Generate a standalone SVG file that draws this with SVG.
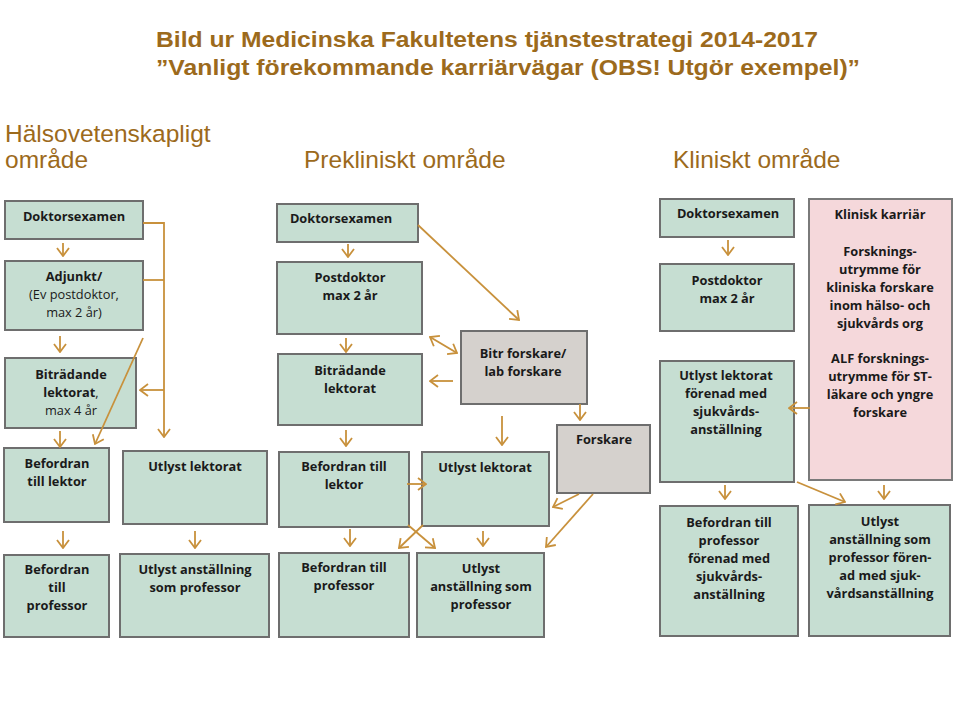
<svg xmlns="http://www.w3.org/2000/svg" width="960" height="709" viewBox="0 0 960 709">
<defs>
<style>
.box{fill:#c6ded2;stroke:#6e6e6e;stroke-width:2}
.gray{fill:#d5d1cd;stroke:#6e6e6e;stroke-width:2}
.pink{fill:#f5d8db;stroke:#7a7a7a;stroke-width:2}
.t{font-family:"Open Sans","Noto Sans",sans-serif;font-size:12.8px;font-weight:700;fill:#1a1a1a;text-anchor:middle}
.r{font-weight:400}
.c{stroke:#c8913c;stroke-width:1.8;fill:none;marker-end:url(#ah)}
.cn{stroke:#c8913c;stroke-width:1.8;fill:none}
.title{font-family:"Liberation Sans",Arial,sans-serif;font-size:22px;font-weight:700;fill:#9c6a1c}
.sec{font-family:"Liberation Sans",Arial,sans-serif;font-size:24.5px;fill:#9c6a1c}
</style>
<marker id="ah" viewBox="0 0 10 14" refX="9" refY="7" markerWidth="10" markerHeight="14" markerUnits="userSpaceOnUse" orient="auto-start-reverse">
<path d="M1,1 L9,7 L1,13" fill="none" stroke="#c8913c" stroke-width="1.8"/>
</marker>
</defs>
<rect width="960" height="709" fill="#ffffff"/>
<g id="titles">
<text class="title" x="156" y="47" textLength="662" lengthAdjust="spacingAndGlyphs">Bild ur Medicinska Fakultetens tjänstestrategi 2014-2017</text>
<text class="title" x="156" y="75" textLength="704" lengthAdjust="spacingAndGlyphs">”Vanligt förekommande karriärvägar (OBS! Utgör exempel)”</text>
<text class="sec" x="5" y="142">Hälsovetenskapligt</text>
<text class="sec" x="5" y="168">område</text>
<text class="sec" x="304" y="168">Prekliniskt område</text>
<text class="sec" x="673" y="168">Kliniskt område</text>
</g>
<g id="l-doktor"><rect class="box" x="5" y="201" width="138" height="38"/><text class="t" x="74" y="221">Doktorsexamen</text></g>
<g id="l-adjunkt"><rect class="box" x="5" y="261" width="138" height="69"/><text class="t" x="74" y="281">Adjunkt/</text><text class="t r" x="74" y="299">(Ev postdoktor,</text><text class="t r" x="74" y="317">max 2 år)</text></g>
<g id="l-bitr"><rect class="box" x="5" y="358" width="131" height="70"/><text class="t" x="71" y="379">Biträdande</text><text class="t" x="71" y="397">lektorat<tspan class="r">,</tspan></text><text class="t r" x="71" y="415">max 4 år</text></g>
<g id="l-beflektor"><rect class="box" x="4" y="448" width="105" height="74"/><text class="t" x="57" y="468">Befordran</text><text class="t" x="57" y="486">till lektor</text></g>
<g id="l-utlystlektorat"><rect class="box" x="123" y="451" width="144" height="73"/><text class="t" x="195" y="471">Utlyst lektorat</text></g>
<g id="l-befprof"><rect class="box" x="4" y="555" width="105" height="82"/><text class="t" x="57" y="574">Befordran</text><text class="t" x="57" y="592">till</text><text class="t" x="57" y="610">professor</text></g>
<g id="l-utlystprof"><rect class="box" x="120" y="554" width="149" height="83"/><text class="t" x="195" y="574">Utlyst anställning</text><text class="t" x="195" y="592">som professor</text></g>
<g id="m-doktor"><rect class="box" x="277" y="204" width="141" height="38"/><text class="t" x="341" y="223">Doktorsexamen</text></g>
<g id="m-postdok"><rect class="box" x="277" y="262" width="145" height="72"/><text class="t" x="350" y="282">Postdoktor</text><text class="t" x="350" y="300">max 2 år</text></g>
<g id="m-bitr"><rect class="box" x="278" y="354" width="144" height="71"/><text class="t" x="350" y="375">Biträdande</text><text class="t" x="350" y="393">lektorat</text></g>
<g id="m-bitrforskare"><rect class="gray" x="461" y="331" width="126" height="73"/><text class="t" x="523" y="358">Bitr forskare/</text><text class="t" x="523" y="376">lab forskare</text></g>
<g id="m-forskare"><rect class="gray" x="557" y="425" width="93" height="68"/><text class="t" x="604" y="444">Forskare</text></g>
<g id="m-beflektor"><rect class="box" x="279" y="452" width="130" height="75"/><text class="t" x="344" y="471">Befordran till</text><text class="t" x="344" y="489">lektor</text></g>
<g id="m-utlystlektorat"><rect class="box" x="422" y="452" width="127" height="74"/><text class="t" x="485" y="472">Utlyst lektorat</text></g>
<g id="m-befprof"><rect class="box" x="279" y="553" width="130" height="84"/><text class="t" x="344" y="572">Befordran till</text><text class="t" x="344" y="590">professor</text></g>
<g id="m-utlystprof"><rect class="box" x="417" y="553" width="127" height="84"/><text class="t" x="481" y="573">Utlyst</text><text class="t" x="481" y="591">anställning som</text><text class="t" x="481" y="609">professor</text></g>
<g id="r-doktor"><rect class="box" x="660" y="199" width="134" height="38"/><text class="t" x="728" y="218">Doktorsexamen</text></g>
<g id="r-klinisk"><rect class="pink" x="809" y="199" width="143" height="281"/><text class="t" x="880" y="219">Klinisk karriär</text><text class="t" x="880" y="256">Forsknings-</text><text class="t" x="880" y="274">utrymme för</text><text class="t" x="880" y="292">kliniska forskare</text><text class="t" x="880" y="310">inom hälso- och</text><text class="t" x="880" y="328">sjukvårds org</text><text class="t" x="880" y="363">ALF forsknings-</text><text class="t" x="880" y="381">utrymme för ST-</text><text class="t" x="880" y="399">läkare och yngre</text><text class="t" x="880" y="417">forskare</text></g>
<g id="r-postdok"><rect class="box" x="660" y="264" width="134" height="67"/><text class="t" x="727" y="285">Postdoktor</text><text class="t" x="727" y="303">max 2 år</text></g>
<g id="r-utlystlektorat"><rect class="box" x="660" y="361" width="134" height="121"/><text class="t" x="726" y="380">Utlyst lektorat</text><text class="t" x="726" y="398">förenad med</text><text class="t" x="726" y="416">sjukvårds-</text><text class="t" x="726" y="434">anställning</text></g>
<g id="r-befprof"><rect class="box" x="660" y="506" width="138" height="130"/><text class="t" x="729" y="527">Befordran till</text><text class="t" x="729" y="545">professor</text><text class="t" x="729" y="563">förenad med</text><text class="t" x="729" y="581">sjukvårds-</text><text class="t" x="729" y="599">anställning</text></g>
<g id="r-utlystprof"><rect class="box" x="809" y="505" width="141" height="131"/><text class="t" x="880" y="526">Utlyst</text><text class="t" x="880" y="544">anställning som</text><text class="t" x="880" y="562">professor fören-</text><text class="t" x="880" y="580">ad med sjuk-</text><text class="t" x="880" y="598">vårdsanställning</text></g>
<g id="connectors">
<path class="c" d="M63,243 V256"/>
<path class="c" d="M60,336 V352"/>
<path class="c" d="M60,431 V447"/>
<path class="c" d="M63,531 V548"/>
<path class="c" d="M195,531 V548"/>
<path class="c" d="M143,223 H164 V437"/>
<path class="cn" d="M143,280 H164"/>
<path class="c" d="M164,390 H140"/>
<path class="c" d="M143,338 L95,444"/>
<path class="c" d="M348,244 V257"/>
<path class="c" d="M346,338 V352"/>
<path class="c" d="M346,430 V446"/>
<path class="c" d="M350,529 V546"/>
<path class="c" d="M483,531 V546"/>
<path class="c" d="M418,225 L519,320"/>
<path class="c" d="M430,337 L457,353" style="marker-start:url(#ah)"/>
<path class="c" d="M453,381 H430"/>
<path class="c" d="M580,404 V420"/>
<path class="c" d="M502,416 V445"/>
<path class="c" d="M407,484 H426"/>
<path class="c" d="M579,494 L553,507"/>
<path class="c" d="M593,494 L546,547"/>
<path class="c" d="M408,525 L435,548"/>
<path class="c" d="M423,525 L399,548"/>
<path class="c" d="M728,240 V255"/>
<path class="c" d="M810,408 H789"/>
<path class="c" d="M725,485 V499"/>
<path class="c" d="M884,485 V499"/>
<path class="c" d="M797,482 L845,502"/>
</g>
</svg>
